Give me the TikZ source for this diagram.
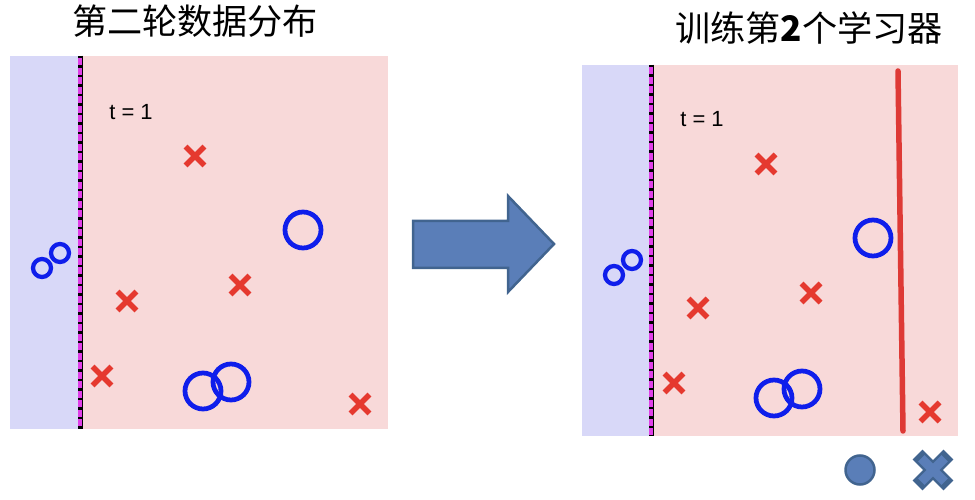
\documentclass[tikz,border=0pt]{standalone}
\usepackage{fontspec}
\setsansfont{Liberation Sans}
\newfontfamily\cjk{Noto Sans CJK SC}
\usepackage{xcolor}
\usepackage{tikz}
\usetikzlibrary{shapes.misc}
\definecolor{bgblue}{HTML}{D8D8F8}
\definecolor{bgpink}{HTML}{F8D9D9}
\definecolor{xred}{HTML}{E5392F}
\definecolor{oblue}{HTML}{0F1EEB}
\definecolor{arrfill}{HTML}{5A7EB8}
\definecolor{arrdraw}{HTML}{41648F}
\definecolor{divmag}{HTML}{E040E8}
\definecolor{linered}{HTML}{DE3A36}
\tikzstyle{redx}   = [cross out, draw=xred, line width=0.11cm, minimum size=0.27cm,
                      inner sep=0pt]
\tikzstyle{bigo}   = [circle, draw=oblue, line width=0.095cm, minimum size=0.72cm,
                      inner sep=0pt]
\tikzstyle{smallo} = [circle, draw=oblue, line width=0.085cm, minimum size=0.36cm,
                      inner sep=0pt]
\tikzstyle{title}  = [font=\cjk\fontsize{20}{22}\selectfont, inner sep=0pt]
\tikzstyle{tlabel} = [font=\sffamily\fontsize{12.5}{14}\selectfont, inner sep=0pt]
\tikzstyle{divmagline} = [draw=divmag, line width=0.1cm]
\tikzstyle{divdash}    = [draw=black, line width=0.1cm, dash pattern=on 0.05cm off 0.14cm]
\tikzstyle{divedge}    = [draw=black, line width=0.02cm]

\begin{document}
\begin{tikzpicture}[x=0.02cm, y=-0.02cm]
  \useasboundingbox (0,0) rectangle (975,500);

  % Titles
  \node[title] (ttlL) at (195,21) {第二轮数据分布};
  \node[title] (ttlR) at (809,28) {训练第\textbf{2}个学习器};

  % Left panel
  \fill[bgblue] (10,56) rectangle (80,429);
  \fill[bgpink] (80,56) rectangle (388,429);
  \draw[divmagline] (80,56) -- (80,429);
  \draw[divdash]    (80,56) -- (80,429);
  \draw[divedge]    (82.5,56) -- (82.5,429);
  \node[tlabel] (tL) at (131,112) {t = 1};

  \node[redx] (xL1) at (195,156) {};
  \node[redx] (xL2) at (240,285) {};
  \node[redx] (xL3) at (127,301) {};
  \node[redx] (xL4) at (102,376) {};
  \node[redx] (xL5) at (360,404) {};
  \node[bigo] (oL1) at (303,230) {};
  \node[bigo] (oL2) at (203,391) {};
  \node[bigo] (oL3) at (231,382) {};
  \node[smallo] (sL1) at (42,268) {};
  \node[smallo] (sL2) at (60,253) {};

  % Arrow
  \filldraw[fill=arrfill, draw=arrdraw, line width=0.05cm]
    (413,221) -- (508,221) -- (508,196) -- (554,244) -- (508,292)
    -- (508,268) -- (413,268) -- cycle;

  % Right panel
  \fill[bgblue] (582,65) rectangle (651,436);
  \fill[bgpink] (651,65) rectangle (958,436);
  \draw[divmagline] (651,65) -- (651,436);
  \draw[divdash]    (651,65) -- (651,436);
  \draw[divedge]    (653.5,65) -- (653.5,436);
  \node[tlabel] (tR) at (702,119) {t = 1};

  \node[redx] (xR1) at (766,164) {};
  \node[redx] (xR2) at (811,293) {};
  \node[redx] (xR3) at (698,308) {};
  \node[redx] (xR4) at (674,383) {};
  \node[redx] (xR5) at (930,412) {};
  \node[bigo] (oR1) at (873,238) {};
  \node[bigo] (oR2) at (774,398) {};
  \node[bigo] (oR3) at (802,389) {};
  \node[smallo] (sR1) at (614,275) {};
  \node[smallo] (sR2) at (632,260) {};

  % Learner 2
  \coordinate (sepTop) at (898,71);
  \coordinate (sepBot) at (903,431);
  \draw[linered, line width=0.11cm, line cap=round] (sepTop) -- (sepBot);

  % Legend
  \node[circle, fill=arrfill, draw=arrdraw, line width=0.05cm, minimum size=0.58cm,
        inner sep=0pt] (legO) at (860,470) {};
  \node[cross out, draw=arrdraw, line width=0.28cm, minimum size=0.34cm,
        inner sep=0pt] (legX) at (933,470) {};
  \node[cross out, draw=arrfill, line width=0.18cm, minimum size=0.29cm,
        inner sep=0pt] (legXin) at (933,470) {};
\end{tikzpicture}
\end{document}
